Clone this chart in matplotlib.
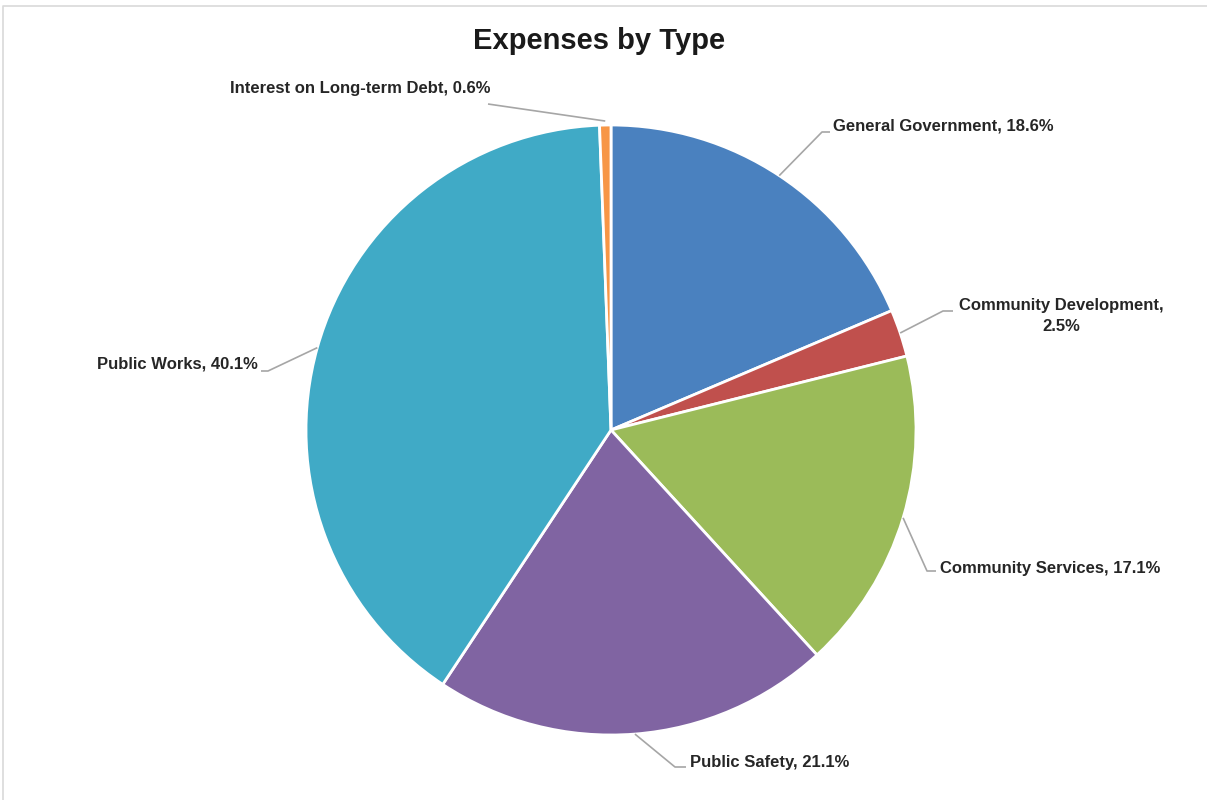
import matplotlib.pyplot as plt
import numpy as np

plt.rcParams['font.family'] = ['Liberation Sans', 'DejaVu Sans']

# data, clockwise from 12 o'clock
categories = ["General Government", "Community Development", "Community Services",
              "Public Safety", "Public Works", "Interest on Long-term Debt"]
shares = [18.6, 2.5, 17.1, 21.1, 40.1, 0.6]
colors = ["#4A81BF", "#C0504D", "#9BBB59", "#8064A2", "#40AAC6", "#F79646"]

W, H = 1207, 800
cx, cy, R = 611, H - 430, 305

# label layout in pixel coords: text anchor, elbow, tail end, alignment
label_layout = {
    "General Government": ((833, H - 126), (822, H - 132), (830, H - 132), "left"),
    "Community Development": ((1061, H - 316), (943, H - 311), (953, H - 311), "center"),
    "Community Services": ((940, H - 568), (927, H - 571), (936, H - 571), "left"),
    "Public Safety": ((690, H - 763), (675, H - 767), (686, H - 767), "left"),
    "Public Works": ((258, H - 364), (268, H - 371), (261, H - 371), "right"),
    "Interest on Long-term Debt": ((490, H - 89), (605, H - 122), (488, H - 104), "right"),
}

fig = plt.figure(figsize=(W / 100, H / 100), dpi=100)
ax = fig.add_axes([0, 0, 1, 1])

wedges, _ = ax.pie(shares, colors=colors, startangle=90, counterclock=False,
                   center=(cx, cy), radius=R,
                   wedgeprops=dict(edgecolor="white", linewidth=2))

ax.set_xlim(0, W)
ax.set_ylim(0, H)
ax.set_aspect("equal")
ax.axis("off")

for w, name, val in zip(wedges, categories, shares):
    mid = np.deg2rad((w.theta1 + w.theta2) / 2)
    sx, sy = cx + R * np.cos(mid), cy + R * np.sin(mid)
    (tx, ty), elbow, tail, ha = label_layout[name]
    if name == "Interest on Long-term Debt":
        pts = [(sx, sy + 4), tail]
    else:
        pts = [(sx, sy), elbow, tail]
    xs, ys = zip(*pts)
    ax.plot(xs, ys, color="#A6A6A6", lw=1.2, solid_capstyle="butt")
    if name == "Community Development":
        txt = f"{name},\n{val}%"
    else:
        txt = f"{name}, {val}%"
    ax.text(tx, ty, txt, ha=ha, va="center", fontsize=12, fontweight="bold",
            color="#262626", linespacing=1.45)

ax.text(W / 2 - 4, H - 41, "Expenses by Type", ha="center", va="center",
        fontsize=21, fontweight="bold", color="#1a1a1a")

# chart border
ax.plot([3, 3, W], [0, H - 6, H - 6], color="#D9D9D9", lw=1.2)

fig.savefig("out.png", dpi=100)
